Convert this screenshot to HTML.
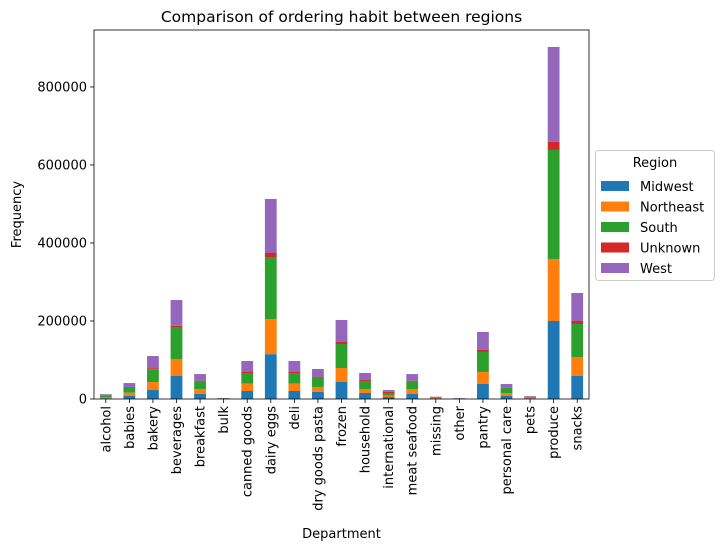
<!DOCTYPE html>
<html><head><meta charset="utf-8"><style>
body{margin:0;background:#fff;font-family:"Liberation Sans","DejaVu Sans",sans-serif}
svg text{font-family:"DejaVu Sans","Liberation Sans",sans-serif}
</style></head><body>
<svg id="c" width="724" height="551" xmlns="http://www.w3.org/2000/svg"></svg>
<script>
const categories=["alcohol","babies","bakery","beverages","breakfast","bulk","canned goods","dairy eggs","deli","dry goods pasta","frozen","household","international","meat seafood","missing","other","pantry","personal care","pets","produce","snacks"];
const seriesNames=["Midwest","Northeast","South","Unknown","West"];
const colors=["#1f77b4","#ff7f0e","#2ca02c","#d62728","#9467bd"];
const midwest=[2000,8500,23000,59000,12800,600,20500,115000,20500,18000,43600,15400,5100,12800,1300,500,38500,7700,1500,200000,59000];
const northeast=[2000,7700,20500,43600,12800,500,18800,90000,18800,12800,35900,10300,3400,12800,1300,500,30800,7700,1800,159000,48700];
const south=[5000,13000,33000,80000,20500,900,27300,159000,27300,25600,61500,20500,6800,20500,1700,600,51300,12800,2000,279500,84600];
const unknown=[300,1700,2600,5100,800,50,2600,10300,2600,900,5100,3400,3400,800,100,50,5100,800,200,20500,7700];
const west=[3000,10000,31000,66000,17000,600,28200,138500,28200,19700,56400,17100,4300,17000,1500,800,46200,9400,2000,243600,71800];
const yTicks=[0,200000,400000,600000,800000];
const series=[midwest,northeast,south,unknown,west];
const NS="http://www.w3.org/2000/svg";
const svg=document.getElementById('c');
const L=94,R=589,T=30,B=399,YMAX=946000;
const bw=(R-L)/categories.length;
const x=i=>L+bw*(i+0.5);
const y=v=>B-(v/YMAX)*(B-T);
function mk(t,a,txt){const e=document.createElementNS(NS,t);for(const k in a)e.setAttribute(k,a[k]);if(txt!==undefined)e.textContent=txt;svg.appendChild(e);return e;}
categories.forEach((c,i)=>{let base=0;series.forEach((s,j)=>{const r=mk('rect',{x:x(i)-bw*0.25,y:y(base+s[i]),width:bw*0.5,height:y(base)-y(base+s[i]),fill:colors[j]});


base+=s[i];});
const tk=mk('line',{x1:x(i),x2:x(i),y1:B,y2:B+4,stroke:'#000','stroke-width':0.8});


const tx=mk('text',{x:0,y:0,'font-size':13,'text-anchor':'end',transform:`translate(${x(i)+4.5},${B+7}) rotate(-90)`},c);


});
yTicks.forEach(v=>{const tk=mk('line',{x1:L-4,x2:L,y1:y(v),y2:y(v),stroke:'#000','stroke-width':0.8});


const t=mk('text',{x:L-7,y:y(v)+4.5,'font-size':13,'text-anchor':'end'},String(v));


});
const fr=mk('rect',{x:L,y:T,width:R-L,height:B-T,fill:'none',stroke:'#000','stroke-width':0.8});


const ti=mk('text',{x:(L+R)/2,y:22,'font-size':15.5,'text-anchor':'middle'},'Comparison of ordering habit between regions');


const xl=mk('text',{x:(L+R)/2,y:538,'font-size':13,'text-anchor':'middle'},'Department');


const yl=mk('text',{x:0,y:0,'font-size':13,'text-anchor':'middle',transform:`translate(21,${(T+B)/2}) rotate(-90)`},'Frequency');


const lg=mk('rect',{x:595.5,y:150.5,width:119,height:130,fill:'#fff',stroke:'#ccc',rx:3});


const lt=mk('text',{x:655,y:167,'font-size':13,'text-anchor':'middle'},'Region');


seriesNames.forEach((n,j)=>{const yy=181+j*20.5;
const sw=mk('rect',{x:601,y:yy,width:28,height:10,fill:colors[j]});


const t=mk('text',{x:640,y:yy+10,'font-size':13},n);


});
</script>
</body></html>
